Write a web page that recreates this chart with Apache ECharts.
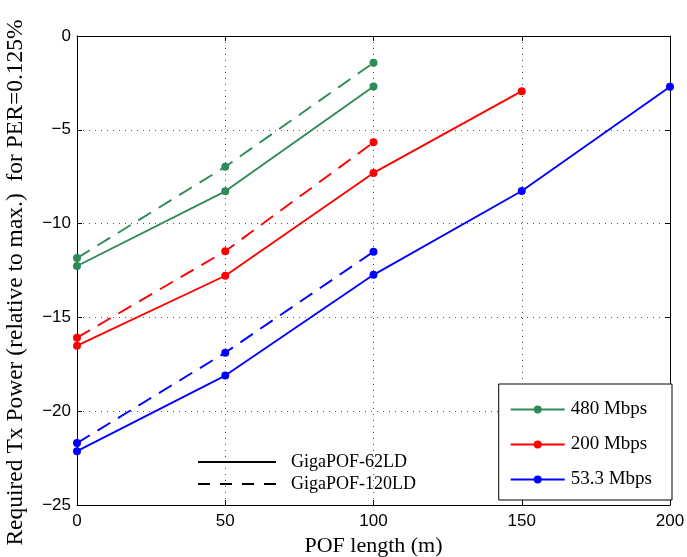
<!DOCTYPE html>
<html><head><meta charset="utf-8">
<script src="https://cdn.jsdelivr.net/npm/echarts@6/dist/echarts.min.js"></script>
<style>html,body{margin:0;padding:0;background:#fff}#c{width:687px;height:557px}</style>
</head><body><div id="c"></div>
<script>
const lengths = [0, 50, 100, 150, 200];
const r480_62 = [-12.26, -8.28, -2.69];
const r480_120 = [-11.84, -6.97, -1.43];
const r200_62 = [-16.51, -12.78, -7.30, -2.94];
const r200_120 = [-16.08, -11.47, -5.67];
const r53_62 = [-22.13, -18.1, -12.73, -8.26, -2.71];
const r53_120 = [-21.7, -16.88, -11.5];
const rateNames = ['480 Mbps', '200 Mbps', '53.3 Mbps'];
const fiberNames = ['GigaPOF-62LD', 'GigaPOF-120LD'];
const colors = ['#2e8b57', '#ff0000', '#0000ff'];

function pts(vals){ return vals.map((v,i)=>[lengths[i], v]); }
function mk(name, vals, color, dashed){
  return {name, type:'line', data: pts(vals), xAxisIndex:0, yAxisIndex:0,
    symbol:'circle', symbolSize:8, showSymbol:true,
    itemStyle:{color}, lineStyle:{color, width:1.9, type: dashed ? [15,9] : 'solid'},
    emphasis:{disabled:true}, animation:false, z:3};
}
const series = [
  mk(rateNames[0], r480_62, colors[0], false),
  mk(rateNames[0], r480_120, colors[0], true),
  mk(rateNames[1], r200_62, colors[1], false),
  mk(rateNames[1], r200_120, colors[1], true),
  mk(rateNames[2], r53_62, colors[2], false),
  mk(rateNames[2], r53_120, colors[2], true),
  {name: fiberNames[0], type:'line', data:[], symbol:'none', itemStyle:{color:'#000'}, lineStyle:{color:'#000', width:1.9}},
  {name: fiberNames[1], type:'line', data:[], symbol:'none', itemStyle:{color:'#000'}, lineStyle:{color:'#000', width:1.9, type:[15,9]}}
];
const serifFont = '"Liberation Serif", "DejaVu Serif", serif';
const sansFont = '"Liberation Sans", Arial, sans-serif';
const minusFmt = v => String(v).replace('-', '\u2212');
const chart = echarts.init(document.getElementById('c'), null, {renderer:'canvas'});
chart.setOption({
  backgroundColor:'#fff',
  animation:false,
  grid:{left:77, right:17, top:36, bottom:52, containLabel:false, outerBoundsMode:'none'},
  xAxis:[{type:'value', min:0, max:200, interval:50, position:'bottom',
    name:'POF length (m)', nameLocation:'middle', nameGap:30,
    nameTextStyle:{fontFamily:serifFont, fontSize:22, color:'#000'},
    axisLine:{show:true, onZero:false, lineStyle:{color:'#000', width:1}},
    axisTick:{show:true, inside:true, length:5, lineStyle:{color:'#000'}},
    axisLabel:{fontFamily:sansFont, fontSize:17, color:'#000', margin:8},
    splitLine:{show:true, lineStyle:{color:'#555', type:[1,5], width:1}}},
   {type:'value', min:0, max:200, interval:50, position:'top',
    axisLine:{show:true, onZero:false, lineStyle:{color:'#000', width:1}},
    axisTick:{show:true, inside:true, length:5, lineStyle:{color:'#000'}},
    axisLabel:{show:false}, splitLine:{show:false}}],
  yAxis:[{type:'value', min:-25, max:0, interval:5, position:'left',
    name:'Required Tx Power (relative to max.)  for PER=0.125%', nameLocation:'middle', nameGap:49,
    nameTextStyle:{fontFamily:serifFont, fontSize:23.5, color:'#000', padding:[0,24,0,0]},
    axisLine:{show:true, onZero:false, lineStyle:{color:'#000', width:1}},
    axisTick:{show:true, inside:true, length:5, lineStyle:{color:'#000'}},
    axisLabel:{fontFamily:sansFont, fontSize:17, color:'#000', margin:6, formatter:minusFmt},
    splitLine:{show:true, lineStyle:{color:'#555', type:[1,5], width:1}}},
   {type:'value', min:-25, max:0, interval:5, position:'right',
    axisLine:{show:true, onZero:false, lineStyle:{color:'#000', width:1}},
    axisTick:{show:true, inside:true, length:5, lineStyle:{color:'#000'}},
    axisLabel:{show:false}, splitLine:{show:false}}],
  legend:[
    {data:rateNames, orient:'vertical', right:15, bottom:57,
     backgroundColor:'#fff', borderColor:'#000', borderWidth:1,
     padding:[16,20,11,11], itemGap:16, itemWidth:54, itemHeight:10,
     textStyle:{fontFamily:serifFont, fontSize:19, color:'#000', padding:[0,0,0,1]},
     selectedMode:false},
    {data:[
       {name:fiberNames[0], icon:'path://M0,0L78,0L78,2L0,2Z'},
       {name:fiberNames[1], icon:'path://M0,0L12,0L12,2L0,2ZM22,0L34,0L34,2L22,2ZM44,0L56,0L56,2L44,2ZM66,0L78,0L78,2L66,2Z'}
     ],
     orient:'vertical', left:193, top:448, itemGap:4,
     itemWidth:78, itemHeight:2, selectedMode:false,
     itemStyle:{color:'#000'},
     textStyle:{fontFamily:serifFont, fontSize:18, color:'#000', padding:[0,0,0,10]}}
  ],
  series
});
</script></body></html>
